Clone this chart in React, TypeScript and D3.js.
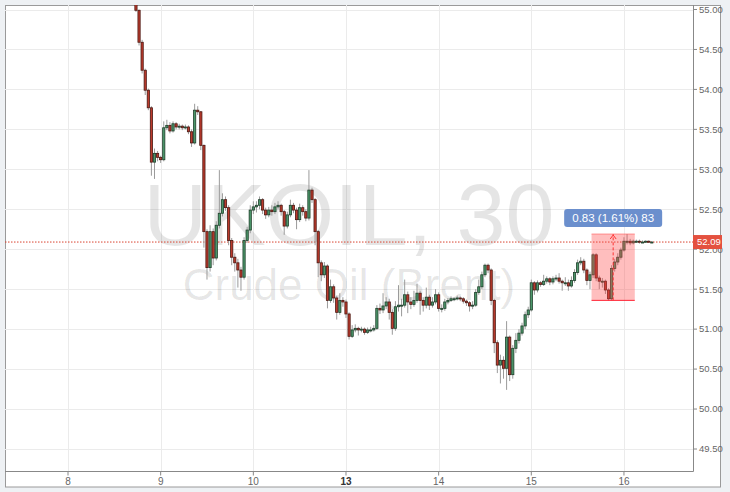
import React from "react";
import * as d3 from "d3";

// UKOIL 30 min candles. open of each bar = previous close
const firstOpen = 55.12;
const firstSlot = 22; // slot of the first bar, counted from the start of day "8"
const barsPerDay = 30;

const closes = [
  54.99, 54.59, 54.24, 53.99, 53.77, 53.09, 53.2, 53.15, 53.12, 53.52,
  53.55, 53.48, 53.57, 53.53, 53.54, 53.52, 53.53, 53.47, 53.33, 53.74,
  53.72, 53.3, 52.22, 51.77, 52.22, 51.89, 52.3, 52.45, 52.62, 52.52,
  52.11, 51.9, 51.83, 51.74, 51.65, 52.11, 52.24, 52.49, 52.53, 52.55,
  52.62, 52.49, 52.43, 52.49, 52.47, 52.53, 52.55, 52.47, 52.29, 52.43,
  52.55, 52.49, 52.37, 52.52, 52.47, 52.39, 52.74, 52.62, 52.22, 51.83,
  51.68, 51.79, 51.36, 51.53, 51.39, 51.21, 51.36, 51.34, 51.19, 50.91,
  50.99, 51.01, 50.99, 51.0, 50.96, 50.99, 50.99, 51.01, 51.26, 51.24,
  51.29, 51.34, 51.21, 51.01, 51.28, 51.3, 51.3, 51.43, 51.34, 51.31,
  51.36, 51.45, 51.36, 51.3, 51.4, 51.3, 51.34, 51.43, 51.26, 51.26,
  51.34, 51.36, 51.38, 51.38, 51.39, 51.38, 51.35, 51.33, 51.29, 51.3,
  51.46, 51.53, 51.68, 51.8, 51.74, 51.36, 50.83, 50.55, 50.61, 50.51,
  50.9, 50.43, 50.76, 50.86, 50.95, 51.04, 51.18, 51.24, 51.58, 51.49,
  51.58, 51.56, 51.6, 51.63, 51.59, 51.63, 51.64, 51.6, 51.58, 51.58,
  51.54, 51.61, 51.71, 51.83, 51.85, 51.74, 51.61, 51.68, 51.93, 51.64,
  51.6, 51.6, 51.49, 51.38, 51.76, 51.84, 51.9, 51.99, 52.1, 52.1,
  52.08, 52.1, 52.1, 52.09, 52.09, 52.1, 52.09, 52.09,
];

const highs = [
  55.18, 55.0, 54.62, 54.26, 54.01, 53.79, 53.26, 53.23, 53.17, 53.6,
  53.62, 53.59, 53.6, 53.59, 53.57, 53.56, 53.56, 53.55, 53.5, 53.82,
  53.79, 53.73, 53.31, 52.25, 52.3, 52.26, 52.35, 52.99, 52.7, 52.66,
  52.55, 52.14, 51.95, 51.88, 51.78, 52.15, 52.28, 52.55, 52.6, 52.6,
  52.66, 52.64, 52.52, 52.53, 52.55, 52.58, 52.6, 52.57, 52.49, 52.47,
  52.62, 52.58, 52.52, 52.57, 52.55, 52.5, 52.99, 52.77, 52.64, 52.24,
  51.86, 51.84, 51.81, 51.62, 51.56, 51.42, 51.45, 51.4, 51.37, 51.21,
  51.05, 51.06, 51.03, 51.03, 51.02, 51.02, 51.03, 51.05, 51.3, 51.32,
  51.45, 51.4, 51.38, 51.25, 51.35, 51.55, 51.38, 51.62, 51.47, 51.4,
  51.48, 51.57, 51.48, 51.4, 51.52, 51.43, 51.4, 51.5, 51.46, 51.31,
  51.38, 51.39, 51.41, 51.4, 51.42, 51.41, 51.4, 51.37, 51.35, 51.35,
  51.5, 51.62, 51.72, 51.82, 51.82, 51.76, 51.38, 50.86, 50.68, 50.66,
  51.1, 50.92, 50.8, 50.95, 51.0, 51.08, 51.22, 51.28, 51.62, 51.6,
  51.61, 51.6, 51.68, 51.66, 51.65, 51.66, 51.68, 51.7, 51.62, 51.65,
  51.62, 51.66, 51.75, 51.87, 51.9, 51.88, 51.76, 51.72, 51.95, 51.95,
  51.67, 51.64, 51.62, 51.51, 51.8, 51.88, 51.95, 52.02, 52.15, 52.19,
  52.13, 52.12, 52.12, 52.12, 52.11, 52.11, 52.11, 52.1,
];

const lows = [
  54.97, 54.55, 54.2, 53.93, 53.74, 52.92, 52.88, 53.1, 53.08, 53.1,
  53.49, 53.45, 53.46, 53.5, 53.5, 53.49, 53.5, 53.44, 53.28, 53.31,
  53.68, 53.24, 52.02, 51.62, 51.72, 51.8, 51.86, 52.26, 52.41, 52.48,
  52.05, 51.8, 51.72, 51.52, 51.48, 51.62, 52.08, 52.2, 52.44, 52.46,
  52.5, 52.44, 52.38, 52.4, 52.42, 52.44, 52.5, 52.42, 52.18, 52.26,
  52.4, 52.45, 52.25, 52.34, 52.42, 52.35, 52.36, 52.58, 52.05, 51.65,
  51.6, 51.64, 51.26, 51.33, 51.33, 51.12, 51.18, 51.28, 51.14, 50.87,
  50.89, 50.96, 50.92, 50.96, 50.93, 50.94, 50.96, 50.97, 50.99, 51.19,
  51.2, 51.25, 51.12, 50.93, 50.98, 51.22, 51.16, 51.27, 51.2, 51.25,
  51.28, 51.33, 51.18, 51.22, 51.26, 51.24, 51.27, 51.31, 51.22, 51.21,
  51.23, 51.31, 51.34, 51.35, 51.36, 51.35, 51.32, 51.29, 51.22, 51.25,
  51.28, 51.43, 51.5, 51.65, 51.7, 51.3, 50.7, 50.45, 50.32, 50.38,
  50.24, 50.35, 50.38, 50.7, 50.82, 50.92, 51.0, 51.14, 51.22, 51.43,
  51.46, 51.53, 51.54, 51.57, 51.55, 51.56, 51.6, 51.57, 51.48, 51.54,
  51.48, 51.52, 51.58, 51.68, 51.8, 51.7, 51.55, 51.5, 51.64, 51.6,
  51.5, 51.52, 51.44, 51.36, 51.36, 51.72, 51.8, 51.87, 51.97, 52.06,
  52.05, 52.06, 52.08, 52.07, 52.08, 52.08, 52.08, 52.08,
];

const dayLabels = ["8", "9", "10", "13", "14", "15", "16"];
const weekStartLabel = "13";
const priceTicks = [49.5, 50, 50.5, 51, 51.5, 52, 52.5, 53, 53.5, 54, 54.5, 55];
const lastPrice = 52.09;

// price range tool drawn on the chart
const measureFrom = 148;
const measureTo = 161;
const measureText = "0.83 (1.61%) 83";

const title = "UKOIL, 30";
const subtitle = "Crude Oil (Brent)";

const W = 730;
const H = 492;
const plot = { left: 5, right: 693, top: 5, bottom: 471.5 };
const font = "'Liberation Sans', Arial, sans-serif";

export default function App() {
  const candles = closes.map((c, i) => ({
    slot: firstSlot + i,
    open: i === 0 ? firstOpen : closes[i - 1],
    close: c,
    high: highs[i],
    low: lows[i],
  }));

  const x = d3
    .scaleLinear()
    .domain([-0.68 * barsPerDay, 6.745 * barsPerDay])
    .range([plot.left, plot.right]);
  const y = d3.scaleLinear().domain([49.5, 55]).range([449, 9.5]);
  const step = x(1) - x(0);
  const bodyW = step * 0.72;

  const m = candles.slice(measureFrom, measureTo + 1);
  const mHigh = d3.max(m, (d) => d.high)!;
  const mLow = d3.min(m, (d) => d.low)!;
  const mx0 = x(m[0].slot) - step / 2;
  const mx1 = x(m[m.length - 1].slot) + step / 2;
  const mcx = (mx0 + mx1) / 2;

  const upFill = "#4c976a";
  const upLine = "#1f3f2b";
  const dnFill = "#bb3a2c";
  const dnLine = "#4a1812";

  return (
    <>
      <style>{`body{margin:0;background:#eef1f4}`}</style>
      <svg width={W} height={H} style={{ display: "block" }} fontFamily={font}>
        <rect x={0} y={0} width={W} height={H} fill="#eef1f4" />
        <rect x={5.5} y={5.5} width={715} height={481.5} fill="#fff" stroke="#9a9a9a" />
        <defs>
          <clipPath id="plotClip">
            <rect x={plot.left} y={plot.top} width={plot.right - plot.left} height={plot.bottom - plot.top} />
          </clipPath>
        </defs>

        {/* grid */}
        <g stroke="#ebebeb" strokeWidth={1}>
          {priceTicks.map((p) => (
            <line key={p} x1={plot.left} x2={plot.right} y1={Math.round(y(p)) + 0.5} y2={Math.round(y(p)) + 0.5} />
          ))}
          {dayLabels.map((d, i) => (
            <line key={d} x1={Math.round(x(i * barsPerDay)) + 0.5} x2={Math.round(x(i * barsPerDay)) + 0.5} y1={plot.top} y2={plot.bottom} />
          ))}
        </g>

        {/* watermark */}
        <g fill="#000" fillOpacity={0.1} textAnchor="middle">
          <text x={(plot.left + plot.right) / 2} y={245} fontSize={88}>{title}</text>
          <text x={(plot.left + plot.right) / 2} y={300} fontSize={44}>{subtitle}</text>
        </g>

        {/* last price line */}
        <line x1={plot.left} x2={plot.right} y1={y(lastPrice)} y2={y(lastPrice)} stroke="#d9432f" strokeWidth={1} strokeDasharray="1.5,1.5" />

        {/* candles */}
        <g clipPath="url(#plotClip)">
          {candles.map((d, i) => {
            const cx = x(d.slot);
            const up = d.close >= d.open;
            const top = y(Math.max(d.open, d.close));
            const bot = y(Math.min(d.open, d.close));
            return (
              <g key={i}>
                <line x1={cx} x2={cx} y1={y(d.high)} y2={y(d.low)} stroke="#9a9a9a" strokeWidth={1} />
                <rect
                  x={cx - bodyW / 2}
                  y={top}
                  width={bodyW}
                  height={Math.max(1, bot - top)}
                  fill={up ? upFill : dnFill}
                  stroke={up ? upLine : dnLine}
                  strokeWidth={0.8}
                />
              </g>
            );
          })}
        </g>

        {/* price range tool */}
        <g>
          <rect x={mx0} y={y(mHigh)} width={mx1 - mx0} height={y(mLow) - y(mHigh)} fill="#f44" fillOpacity={0.35} />
          <line x1={mx0} x2={mx1} y1={y(mHigh)} y2={y(mHigh)} stroke="#f55" strokeOpacity={0.6} />
          <line x1={mx0} x2={mx1} y1={y(mLow)} y2={y(mLow)} stroke="#f23" strokeWidth={1} />
          <line x1={mcx} x2={mcx} y1={y(mLow)} y2={y(mHigh)} stroke="#f33" strokeDasharray="3,2" />
          <path d={`M${mcx - 3},${y(mHigh) + 5} L${mcx},${y(mHigh) + 1} L${mcx + 3},${y(mHigh) + 5}`} fill="none" stroke="#f33" />
          <rect x={mcx - 49} y={y(mHigh) - 25} width={98} height={18} rx={3} fill="#6b8fcd" />
          <text x={mcx} y={y(mHigh) - 12} fill="#fff" fontSize={11.5} textAnchor="middle">{measureText}</text>
        </g>

        {/* axes */}
        <line x1={plot.right + 0.5} x2={plot.right + 0.5} y1={plot.top} y2={plot.bottom} stroke="#888" />
        <line x1={plot.left} x2={plot.right + 0.5} y1={plot.bottom} y2={plot.bottom} stroke="#888" />

        {priceTicks.map((p) => (
          <g key={p}>
            <line x1={plot.right} x2={plot.right + 4} y1={y(p)} y2={y(p)} stroke="#888" />
            <text x={plot.right + 6} y={y(p)} dy="0.35em" fontSize={9.5} fill="#666">{p.toFixed(2)}</text>
          </g>
        ))}

        {dayLabels.map((d, i) => (
          <g key={d}>
            <line x1={x(i * barsPerDay)} x2={x(i * barsPerDay)} y1={plot.bottom} y2={plot.bottom + 4} stroke="#888" />
            <text
              x={x(i * barsPerDay)}
              y={484.5}
              fontSize={10}
              textAnchor="middle"
              fill={d === weekStartLabel ? "#333" : "#666"}
              fontWeight={d === weekStartLabel ? "bold" : "normal"}
            >
              {d}
            </text>
          </g>
        ))}

        {/* last price tag, covering part of the 52.00 label as in the original */}
        <rect x={plot.right} y={y(lastPrice) - 7} width={29} height={14} fill="#e4513f" />
        <text x={plot.right + 4} y={y(lastPrice)} dy="0.35em" fontSize={9.5} fill="#fff">{lastPrice.toFixed(2)}</text>
      </svg>
    </>
  );
}
